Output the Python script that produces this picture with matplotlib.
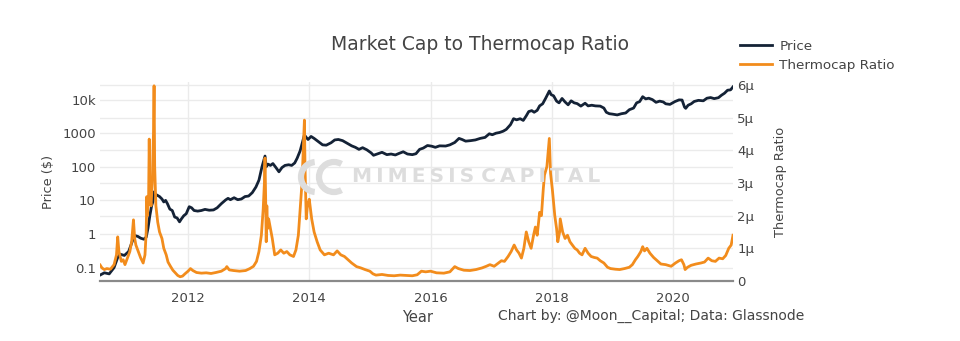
import matplotlib
matplotlib.use("Agg")
import matplotlib.pyplot as plt
from matplotlib.patches import Arc

plt.rcParams['font.family'] = ['DejaVu Sans']

# ---- data (decimal year, value) ----
price_year = [
    2010.55, 2010.62, 2010.70, 2010.78, 2010.84, 2010.88, 2010.95, 2011.02, 2011.08, 2011.12,
    2011.17, 2011.22, 2011.27, 2011.31, 2011.34, 2011.37, 2011.40, 2011.42, 2011.44, 2011.47,
    2011.50, 2011.53, 2011.57, 2011.60, 2011.63, 2011.66, 2011.70, 2011.74, 2011.78, 2011.82,
    2011.86, 2011.89, 2011.93, 2011.97, 2012.02, 2012.06, 2012.10, 2012.16, 2012.22, 2012.28,
    2012.35, 2012.42, 2012.48, 2012.55, 2012.62, 2012.66, 2012.70, 2012.76, 2012.82, 2012.88,
    2012.94, 2013.00, 2013.06, 2013.12, 2013.17, 2013.22, 2013.27, 2013.29, 2013.32, 2013.36,
    2013.40, 2013.45, 2013.50, 2013.55, 2013.60, 2013.66, 2013.71, 2013.76, 2013.80, 2013.85,
    2013.89, 2013.92, 2013.95, 2013.98, 2014.03, 2014.08, 2014.15, 2014.22, 2014.28, 2014.36,
    2014.42, 2014.48, 2014.55, 2014.62, 2014.70, 2014.76, 2014.82, 2014.88, 2014.95, 2015.02,
    2015.06, 2015.12, 2015.20, 2015.28, 2015.35, 2015.42, 2015.48, 2015.55, 2015.62, 2015.70,
    2015.76, 2015.82, 2015.88, 2015.95, 2016.02, 2016.08, 2016.15, 2016.25, 2016.32, 2016.40,
    2016.47, 2016.52, 2016.58, 2016.66, 2016.74, 2016.82, 2016.90, 2016.97, 2017.02, 2017.08,
    2017.14, 2017.20, 2017.25, 2017.32, 2017.37, 2017.42, 2017.48, 2017.53, 2017.58, 2017.62,
    2017.67, 2017.71, 2017.76, 2017.80, 2017.85, 2017.90, 2017.96, 2017.99, 2018.03, 2018.08,
    2018.12, 2018.17, 2018.22, 2018.27, 2018.32, 2018.37, 2018.42, 2018.48, 2018.55, 2018.60,
    2018.66, 2018.72, 2018.80, 2018.86, 2018.90, 2018.95, 2019.00, 2019.08, 2019.15, 2019.22,
    2019.28, 2019.35, 2019.40, 2019.45, 2019.50, 2019.55, 2019.60, 2019.66, 2019.72, 2019.78,
    2019.84, 2019.88, 2019.95, 2020.03, 2020.10, 2020.15, 2020.19, 2020.21, 2020.25, 2020.30,
    2020.35, 2020.42, 2020.50, 2020.56, 2020.62, 2020.68, 2020.75, 2020.80, 2020.85, 2020.90,
    2020.95, 2020.99,
]
price_usd = [
    0.06, 0.07, 0.065, 0.1, 0.2, 0.25, 0.23, 0.3, 0.6, 0.9,
    0.85, 0.75, 0.7, 0.8, 1.5, 3.5, 7, 9, 18, 15,
    14, 13, 11, 9, 10, 8, 5.5, 5, 3.2, 3.0,
    2.3, 2.8, 3.5, 4.0, 6.5, 6, 5, 4.8, 5, 5.4,
    5.1, 5.2, 6, 8, 10.3, 11.5, 10.5, 12, 10.5, 11,
    13, 13.5, 17, 25, 40, 100, 209, 100, 120, 110,
    125, 95, 71, 95, 110, 115, 110, 130, 180, 300,
    560, 890, 750, 650, 800, 700, 560, 450, 440, 520,
    630, 650, 600, 510, 420, 380, 330, 370, 320, 260,
    220, 240, 270, 230, 240, 225, 250, 280, 240, 230,
    245, 330, 360, 430, 410, 380, 420, 415, 450, 530,
    700, 650, 580, 600, 630, 700, 750, 960, 900, 1000,
    1050, 1150, 1300, 1800, 2700, 2500, 2700, 2400, 3300, 4400,
    4700, 4200, 4800, 6500, 7500, 11000, 18000, 14000, 13000, 9000,
    8000, 10800, 8500, 7000, 9200, 8000, 7600, 6400, 7800, 6500,
    6800, 6500, 6400, 5600, 4200, 3800, 3700, 3500, 3800, 4000,
    5000, 5600, 8000, 8700, 12200, 10500, 11000, 10000, 8300, 9000,
    8500, 7500, 7200, 8700, 9800, 9700, 6000, 5500, 6800, 7500,
    8800, 9500, 9200, 11000, 11500, 10700, 11400, 13500, 15500, 19000,
    19500, 24000,
]

ratio_year = [
    2010.55, 2010.58, 2010.62, 2010.66, 2010.72, 2010.78, 2010.82, 2010.84, 2010.86, 2010.88,
    2010.90, 2010.93, 2010.96, 2011.00, 2011.04, 2011.07, 2011.10, 2011.12, 2011.14, 2011.18,
    2011.22, 2011.26, 2011.29, 2011.31, 2011.32, 2011.33, 2011.35, 2011.36, 2011.37, 2011.39,
    2011.41, 2011.43, 2011.44, 2011.45, 2011.47, 2011.50, 2011.53, 2011.57, 2011.60, 2011.64,
    2011.67, 2011.71, 2011.75, 2011.79, 2011.83, 2011.87, 2011.91, 2011.95, 2012.00, 2012.04,
    2012.08, 2012.14, 2012.22, 2012.30, 2012.38, 2012.46, 2012.55, 2012.62, 2012.64, 2012.68,
    2012.75, 2012.85, 2012.95, 2013.02, 2013.08, 2013.13, 2013.17, 2013.21, 2013.24, 2013.26,
    2013.27, 2013.28, 2013.29, 2013.30, 2013.31, 2013.33, 2013.35, 2013.39, 2013.43, 2013.48,
    2013.53, 2013.58, 2013.63, 2013.68, 2013.74, 2013.78, 2013.82, 2013.85, 2013.88, 2013.90,
    2013.92, 2013.93, 2013.95, 2013.97, 2014.00, 2014.04, 2014.08, 2014.13, 2014.18, 2014.25,
    2014.32, 2014.40, 2014.46, 2014.52, 2014.58, 2014.64, 2014.70, 2014.78, 2014.85, 2014.92,
    2015.00, 2015.05, 2015.10, 2015.20, 2015.30, 2015.40, 2015.50, 2015.60, 2015.70, 2015.78,
    2015.85, 2015.92, 2016.00, 2016.10, 2016.22, 2016.32, 2016.40, 2016.46, 2016.55, 2016.65,
    2016.75, 2016.85, 2016.92, 2016.98, 2017.05, 2017.12, 2017.17, 2017.22, 2017.28, 2017.33,
    2017.38, 2017.42, 2017.46, 2017.50, 2017.54, 2017.58, 2017.62, 2017.66, 2017.70, 2017.73,
    2017.76, 2017.80, 2017.83, 2017.86, 2017.88, 2017.92, 2017.96, 2017.98, 2018.01, 2018.05,
    2018.08, 2018.10, 2018.13, 2018.14, 2018.18, 2018.22, 2018.26, 2018.30, 2018.34, 2018.38,
    2018.42, 2018.46, 2018.50, 2018.55, 2018.60, 2018.65, 2018.70, 2018.75, 2018.80, 2018.86,
    2018.92, 2018.97, 2019.05, 2019.12, 2019.20, 2019.28, 2019.33, 2019.38, 2019.42, 2019.47,
    2019.50, 2019.53, 2019.57, 2019.62, 2019.68, 2019.74, 2019.80, 2019.88, 2019.97, 2020.04,
    2020.10, 2020.14, 2020.18, 2020.20, 2020.24, 2020.30, 2020.38, 2020.46, 2020.52, 2020.58,
    2020.64, 2020.70, 2020.76, 2020.82, 2020.87, 2020.92, 2020.96, 2020.99,
]
# thermocap ratio in micro units
ratio_micro = [
    0.49, 0.4, 0.35, 0.38, 0.36, 0.5, 0.8, 1.35, 0.9, 0.75,
    0.6, 0.65, 0.5, 0.7, 0.9, 1.2, 1.87, 1.3, 1.1, 0.9,
    0.7, 0.55, 0.8, 1.5, 2.58, 2.0, 2.6, 4.34, 2.6, 2.3,
    3.0, 4.5, 5.97, 3.5, 2.3, 1.8, 1.5, 1.3, 1.0, 0.8,
    0.58, 0.45, 0.33, 0.25, 0.17, 0.13, 0.15, 0.22, 0.3, 0.38,
    0.32, 0.26, 0.24, 0.25, 0.23, 0.26, 0.3, 0.38, 0.44, 0.34,
    0.32, 0.3, 0.32, 0.38, 0.45, 0.6, 0.9, 1.4, 2.2, 3.0,
    3.76, 2.6, 1.2, 2.3, 1.6, 1.9, 1.7, 1.3, 0.8, 0.85,
    0.95, 0.85, 0.9, 0.8, 0.75, 0.95, 1.4, 2.2, 3.0, 4.0,
    4.92, 3.5, 1.9, 2.3, 2.5, 1.9, 1.5, 1.2, 0.95, 0.8,
    0.85, 0.8, 0.92, 0.8, 0.75, 0.65, 0.55, 0.44, 0.4, 0.35,
    0.3, 0.22, 0.18, 0.2, 0.17, 0.16, 0.18, 0.17, 0.16, 0.19,
    0.3, 0.28, 0.3, 0.25, 0.24, 0.28, 0.44, 0.38, 0.33, 0.32,
    0.35, 0.4, 0.45, 0.5, 0.45, 0.55, 0.62, 0.6, 0.75, 0.9,
    1.1, 0.95, 0.85, 0.7, 1.0, 1.5, 1.2, 1.0, 1.4, 1.65,
    1.4, 2.1, 2.0, 2.8, 3.24, 3.5, 4.36, 3.3, 2.8, 2.0,
    1.6, 1.2, 1.5, 1.9, 1.5, 1.3, 1.4, 1.2, 1.1, 1.0,
    0.95, 0.85, 0.8, 1.0, 0.85, 0.75, 0.72, 0.7, 0.62, 0.55,
    0.42, 0.38, 0.36, 0.35, 0.38, 0.42, 0.5, 0.65, 0.75, 0.9,
    1.05, 0.92, 1.0, 0.85, 0.72, 0.62, 0.52, 0.5, 0.45, 0.55,
    0.62, 0.65, 0.5, 0.35, 0.42, 0.48, 0.52, 0.55, 0.58, 0.7,
    0.62, 0.6, 0.7, 0.68, 0.78, 1.0, 1.1, 1.4,
]

year_ticks = [2012, 2014, 2016, 2018, 2020]
price_ticks = [0.1, 1, 10, 100, 1000, 10000]
price_labels = ['0.1', '1', '10', '100', '1000', '10k']
ratio_ticks = [0, 1, 2, 3, 4, 5, 6]
ratio_labels = ['0', '1µ', '2µ', '3µ', '4µ', '5µ', '6µ']

PRICE_COLOR = '#142236'
RATIO_COLOR = '#f28c1c'
TEXT = '#444444'
GRID = '#ebebeb'
MARK = '#dddddd'

X_MIN, X_MAX = 2010.548, 2020.99
P_MIN, P_MAX = 0.0399, 33400
R_MAX = 6.086

fig = plt.figure(figsize=(9.6, 3.41), dpi=100)
ax = fig.add_axes([100 / 960, 1 - 281 / 341, 633 / 960, 199 / 341])
ax2 = ax.twinx()

# watermark (behind the plot)
fig.text(352 / 960, 1 - 177 / 341, '\u2009'.join('MIMESIS') + ' ' + '\u2009'.join('CAPITAL'),
         fontsize=14.5, fontweight='bold', color=MARK, ha='left', va='center', zorder=0)
fig.patches.append(Arc((316, 341 - 177), 30, 30, theta1=95, theta2=265,
                       color=MARK, lw=4.5, transform=None, zorder=0))
fig.patches.append(Arc((334, 341 - 177), 30, 30, theta1=60, theta2=300,
                       color=MARK, lw=4.5, transform=None, zorder=0))
ax.patch.set_visible(False)
ax2.patch.set_visible(False)

# grid: left (log) lines + right (linear) lines, all on the bottom axes
ax.set_yscale('log')
ax.set_xlim(X_MIN, X_MAX)
ax.set_ylim(P_MIN, P_MAX)
ax.set_yticks(price_ticks)
ax.set_yticklabels(price_labels)
ax.yaxis.set_minor_locator(matplotlib.ticker.NullLocator())
ax.set_xticks(year_ticks)
ax.set_xticklabels([str(y) for y in year_ticks])
ax.grid(True, color=GRID, lw=1)
for r in ratio_ticks[1:]:
    ax.plot([0, 1], [r / R_MAX, r / R_MAX], transform=ax.transAxes,
            color=GRID, lw=1, zorder=0.5)

ax.plot(price_year, price_usd, color=PRICE_COLOR, lw=2, solid_joinstyle='round')
ax2.plot(ratio_year, ratio_micro, color=RATIO_COLOR, lw=2, solid_joinstyle='round')

ax2.set_ylim(0, R_MAX)
ax2.set_yticks(ratio_ticks)
ax2.set_yticklabels(ratio_labels)
ax2.set_xlim(X_MIN, X_MAX)

for a in (ax, ax2):
    for s in ('top', 'left', 'right', 'bottom'):
        a.spines[s].set_visible(False)
    a.tick_params(length=0, labelsize=9.5, labelcolor=TEXT)
ax.spines['bottom'].set_visible(True)
ax.spines['bottom'].set_color('#8a8a8a')
ax.spines['bottom'].set_linewidth(1.6)
ax.tick_params(axis='y', pad=3)
ax.tick_params(axis='x', pad=8)
ax2.tick_params(axis='y', pad=3)

ax.set_ylabel('Price ($)', fontsize=9.3, color=TEXT, labelpad=5)
ax2.set_ylabel('Thermocap Ratio', fontsize=9.3, color=TEXT, labelpad=14)

fig.text(480 / 960, 1 - 44 / 341, 'Market Cap to Thermocap Ratio', fontsize=13.5,
         color=TEXT, ha='center', va='center')
fig.text(418 / 960, 1 - 317 / 341, 'Year', fontsize=10.5, color=TEXT,
         ha='center', va='center')
fig.text(498 / 960, 1 - 316 / 341, 'Chart by: @Moon__Capital; Data: Glassnode',
         fontsize=10, color=TEXT, ha='left', va='center')

handles = [plt.Line2D([], [], color=PRICE_COLOR, lw=2),
           plt.Line2D([], [], color=RATIO_COLOR, lw=2)]
fig.legend(handles, ['Price', 'Thermocap Ratio'], loc='upper left',
           bbox_to_anchor=(728 / 960, 1 - 28 / 341), frameon=False, fontsize=9.7,
           handlelength=2.4, handletextpad=0.5, labelspacing=0.4, labelcolor=TEXT)

fig.savefig('out.png', dpi=100)
